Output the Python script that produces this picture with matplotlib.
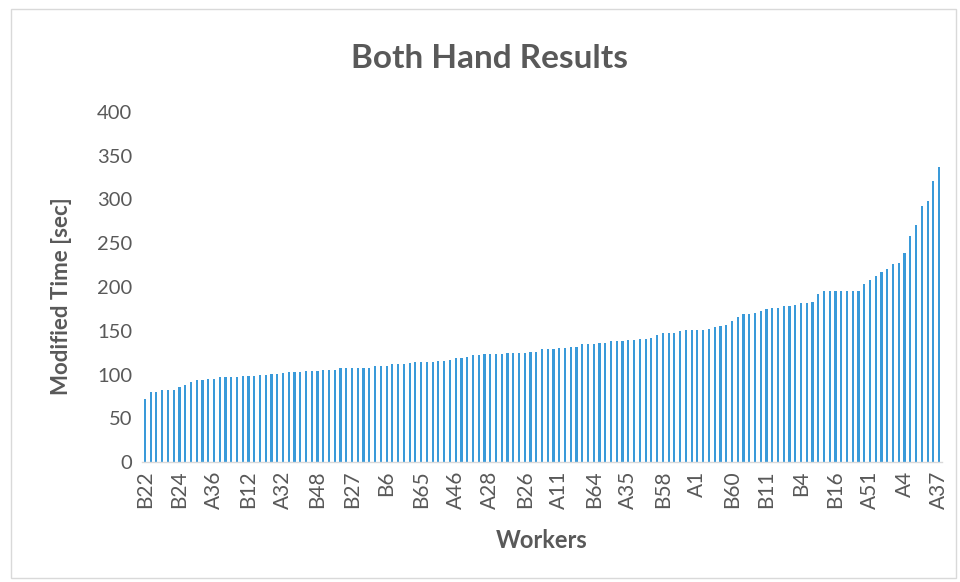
import matplotlib
matplotlib.use("Agg")
import matplotlib.pyplot as plt
from matplotlib.patches import Rectangle

# modified time per worker, sorted ascending (139 workers)
times_sec = [
    72, 80, 80, 82, 82, 82, 86, 88, 92, 94,
    94, 95, 95, 97, 97, 97, 97, 98, 98, 98,
    100, 100, 101, 101, 102, 103, 103, 103, 104, 104,
    104, 105, 105, 105, 107, 107, 107, 107, 108, 108,
    110, 110, 110, 112, 112, 112, 113, 114, 114, 114,
    114, 116, 116, 117, 119, 119, 120, 122, 122, 123,
    123, 123, 123, 125, 125, 125, 125, 126, 126, 129,
    129, 129, 130, 130, 132, 132, 135, 135, 135, 136,
    136, 138, 138, 138, 139, 139, 141, 141, 142, 145,
    147, 148, 148, 150, 151, 151, 151, 151, 152, 154,
    155, 157, 161, 166, 169, 169, 170, 173, 175, 176,
    176, 178, 178, 180, 182, 182, 183, 192, 195, 195,
    195, 195, 195, 195, 195, 204, 208, 213, 217, 221,
    226, 227, 239, 258, 271, 293, 298, 321, 337,
]

# only every 6th worker is labelled on the category axis
tick_labels = [
    "B22", "B24", "A36", "B12", "A32", "B48", "B27", "B6",
    "B65", "A46", "A28", "B26", "A11", "B64", "A35", "B58",
    "A1", "B60", "B11", "B4", "B16", "A51", "A4", "A37",
]
tick_step = 6

y_ticks = [0, 50, 100, 150, 200, 250, 300, 350, 400]

TEXT_GREY = "#595959"
BAR_BLUE = "#3A9AD9"
FONT = ["Lato", "DejaVu Sans"]

plt.rcParams["font.family"] = FONT

fig = plt.figure(figsize=(9.6, 5.82), dpi=100)
fig.patches.append(
    Rectangle((0.011, 0.007), 0.985, 0.978, transform=fig.transFigure,
              fill=False, edgecolor="#D9D9D9", linewidth=1.0)
)

ax = fig.add_axes([142 / 960, 1 - 462 / 582, 800 / 960, 350 / 582])
positions = list(range(len(times_sec)))
ax.bar(positions, times_sec, width=0.38, color=BAR_BLUE)

ax.set_xlim(-0.5, len(times_sec) - 0.5)
ax.set_ylim(0, 400)
ax.set_yticks(y_ticks)
ax.set_yticklabels([str(v) for v in y_ticks], fontsize=14.5, color=TEXT_GREY)
ax.set_xticks(positions[::tick_step])
ax.set_xticklabels(tick_labels, rotation=90, fontsize=15, color=TEXT_GREY)
ax.tick_params(axis="both", length=0)
ax.tick_params(axis="y", pad=7)
ax.tick_params(axis="x", pad=6)

for side in ["top", "right", "left"]:
    ax.spines[side].set_visible(False)
ax.spines["bottom"].set_color("#D9D9D9")
ax.spines["bottom"].set_linewidth(1.0)

fig.text(490 / 960, 1 - 58 / 582, "Both Hand Results", ha="center", va="center",
         fontsize=24, fontweight="bold", color=TEXT_GREY)
fig.text(62 / 960, 1 - 296 / 582, "Modified Time [sec]", ha="center", va="center",
         rotation=90, fontsize=16, fontweight="bold", color=TEXT_GREY)
fig.text(542 / 960, 1 - 541 / 582, "Workers", ha="center", va="center",
         fontsize=17, fontweight="bold", color=TEXT_GREY)

fig.savefig("out.png", dpi=100)
